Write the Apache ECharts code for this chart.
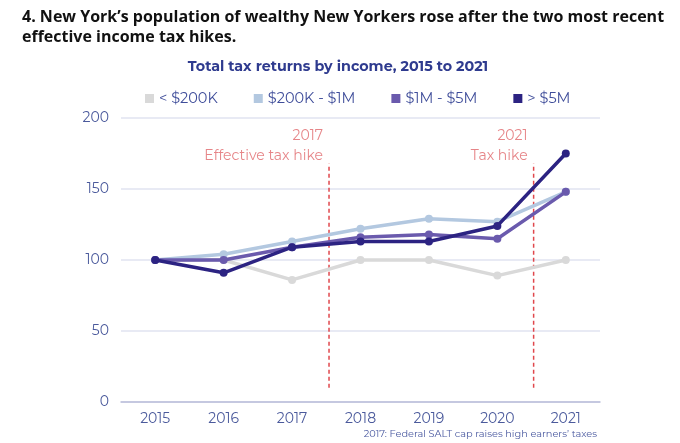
<!DOCTYPE html>
<html><head><meta charset="utf-8">
<script src="https://cdn.jsdelivr.net/npm/echarts@6/dist/echarts.min.js"></script>
<style>html,body{margin:0;padding:0;background:#fff}#c{width:680px;height:443px}</style>
</head><body><div id="c"></div>
<script>
const years = ['2015','2016','2017','2018','2019','2020','2021'];
const under200K = [100, 100, 86, 100, 100, 89, 100];
const k200to1M = [100, 104, 113, 122, 129, 127, 148];
const m1to5M = [100, 100, 109, 116, 118, 115, 148];
const over5M = [100, 91, 109, 113, 113, 124, 175];
const seriesNames = ['< $200K', '$200K - $1M', '$1M - $5M', '> $5M'];
const seriesColors = ['#d9d9d9', '#b3c8e0', '#6a5aad', '#2c2382'];
const yTicks = [0, 50, 100, 150, 200];
// hike markers: position between categories (category index units) and vertical extent (value units)
const hikeMarks = [
  {pos: 2.54, top: 168, bottom: 10, year: '2017', label: 'Effective tax hike'},
  {pos: 5.53, top: 168, bottom: 10, year: '2021', label: 'Tax hike'}
];

const chart = echarts.init(document.getElementById('c'));
const fontFam = 'Montserrat, "Open Sans", sans-serif';
const axisColor = '#4b5a9c';

const lineSeries = [under200K, k200to1M, m1to5M, over5M].map((d, i) => ({
  name: seriesNames[i], type: 'line', data: d,
  xAxisIndex: 0, yAxisIndex: 0,
  symbol: 'circle', symbolSize: 8,
  lineStyle: {width: 3.5, color: seriesColors[i]},
  itemStyle: {color: seriesColors[i]},
  z: 3 + i, animation: false
}));

const markSeries = hikeMarks.map(m => ({
  type: 'line', xAxisIndex: 1, yAxisIndex: 0,
  data: [[m.pos, m.bottom], [m.pos, m.top]],
  symbol: 'none', silent: true, animation: false,
  lineStyle: {color: '#e0474c', width: 1.5, type: [4, 3]},
  z: 2
}));

const labelSeries = hikeMarks.map(m => ({
  type: 'scatter', xAxisIndex: 1, yAxisIndex: 0,
  data: [[m.pos, m.top]], symbolSize: 0, silent: true, animation: false,
  label: {show: true, position: 'left', distance: 6, offset: [0, -18],
    formatter: m.year + '\n' + m.label, align: 'right',
    color: '#e0666a', fontSize: 14, lineHeight: 20, fontFamily: fontFam}
}));

chart.setOption({
  animation: false,
  title: [
    {text: "4. New York’s population of wealthy New Yorkers rose after the two most recent\neffective income tax hikes.",
     left: 17, top: 2,
     textStyle: {fontSize: 16, fontWeight: 'bold', color: '#111', fontFamily: '"Open Sans", sans-serif', lineHeight: 20}},
    {text: 'Total tax returns by income, 2015 to 2021', left: 333, textAlign: 'center', top: 55,
     textStyle: {fontSize: 14.3, fontWeight: 'bold', color: '#2f3b8f', fontFamily: fontFam}},
    {text: '2017: Federal SALT cap raises high earners’ taxes', right: 78, top: 424,
     textStyle: {fontSize: 9.8, fontWeight: 'normal', color: '#4b5aa0', fontFamily: fontFam}}
  ],
  legend: {
    data: seriesNames, top: 86, left: 140,
    icon: 'rect', itemWidth: 9, itemHeight: 9, itemGap: 36,
    textStyle: {fontSize: 14.5, color: '#3f4d9a', fontFamily: fontFam}
  },
  grid: {left: 121, right: 80, top: 118, bottom: 41},
  xAxis: [
    {type: 'category', data: years, boundaryGap: true,
     axisLine: {lineStyle: {color: '#b9bdd9', width: 1.5}}, axisTick: {show: false},
     axisLabel: {color: axisColor, fontSize: 14, margin: 10, fontFamily: fontFam}},
    {type: 'value', min: -0.5, max: 6.5, show: false}
  ],
  yAxis: {type: 'value', min: 0, max: 200, interval: 50,
    axisLine: {show: false}, axisTick: {show: false},
    splitLine: {lineStyle: {color: '#e1e3f1', width: 1.5}},
    axisLabel: {color: axisColor, fontSize: 14, margin: 12, fontFamily: fontFam,
      formatter: v => yTicks.includes(v) ? String(v) : ''}},
  series: [...markSeries, ...labelSeries, ...lineSeries]
});
</script></body></html>
